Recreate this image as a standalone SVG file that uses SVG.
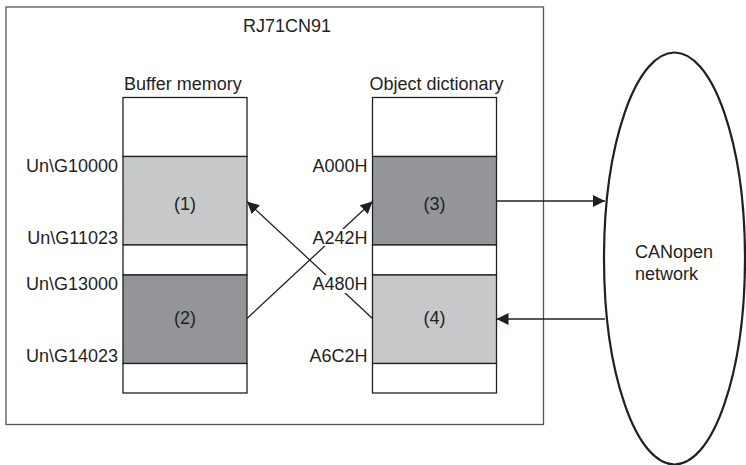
<svg xmlns="http://www.w3.org/2000/svg" width="746" height="465" viewBox="0 0 746 465">
<defs>
<style>
text{font-family:"Liberation Sans",Arial,sans-serif;font-size:18px;fill:#231f20}
.r{text-anchor:end}
.m{text-anchor:middle}
.cell{stroke:#231f20;stroke-width:1.3}
.w{fill:#fff}
.lg{fill:#c7c8ca}
.dg{fill:#939598}
.con{stroke:#231f20;stroke-width:1.3;fill:none}
.bg{fill:#fff}
</style>
<marker id="ah" viewBox="0 0 12 12" refX="12" refY="6" markerWidth="12" markerHeight="12" markerUnits="userSpaceOnUse" orient="auto">
<path d="M0,0 L12,6 L0,12 Z" fill="#231f20"/>
</marker>
</defs>
<rect width="746" height="465" fill="#fff"/>
<g id="module">
<rect x="6" y="7" width="537.5" height="417.5" fill="none" stroke="#555" stroke-width="1.3"/>
<text x="287" y="32" class="m">RJ71CN91</text>
</g>
<g id="connectors">
<line class="con" x1="247" y1="318.5" x2="372.5" y2="201.5" marker-end="url(#ah)"/>
<line class="con" x1="372.5" y1="318.5" x2="247" y2="201.5" marker-end="url(#ah)"/>
<line class="con" x1="496.5" y1="201" x2="605" y2="201" marker-end="url(#ah)"/>
<line class="con" x1="605" y1="319" x2="496.5" y2="319" marker-end="url(#ah)"/>
</g>
<g id="buffer-memory">
<text x="124" y="90">Buffer memory</text>
<rect class="cell w" x="123" y="97.5" width="124" height="59"/>
<rect class="cell lg" x="123" y="156.5" width="124" height="88.5"/>
<rect class="cell w" x="123" y="245" width="124" height="30"/>
<rect class="cell dg" x="123" y="275" width="124" height="88.5"/>
<rect class="cell w" x="123" y="363.5" width="124" height="29.5"/>
<text x="185" y="209.5" class="m">(1)</text>
<text x="185" y="323.5" class="m">(2)</text>
<text x="118" y="172" class="r">Un\G10000</text>
<text x="118" y="244" class="r">Un\G11023</text>
<text x="118" y="290" class="r">Un\G13000</text>
<text x="118" y="362" class="r">Un\G14023</text>
</g>
<g id="object-dictionary">
<text x="369.5" y="90">Object dictionary</text>
<rect class="cell w" x="372.5" y="97.5" width="124" height="59"/>
<rect class="cell dg" x="372.5" y="156.5" width="124" height="88.5"/>
<rect class="cell w" x="372.5" y="245" width="124" height="30"/>
<rect class="cell lg" x="372.5" y="275" width="124" height="88.5"/>
<rect class="cell w" x="372.5" y="363.5" width="124" height="29.5"/>
<text x="434.5" y="209.5" class="m">(3)</text>
<text x="434.5" y="323.5" class="m">(4)</text>
<text x="367.5" y="172" class="r">A000H</text>
<rect class="bg" x="312" y="229" width="56" height="17"/>
<text x="367.5" y="244" class="r">A242H</text>
<rect class="bg" x="312" y="275" width="56" height="18"/>
<text x="367.5" y="290" class="r">A480H</text>
<text x="367.5" y="362" class="r">A6C2H</text>
</g>
<g id="canopen-network">
<ellipse cx="674.5" cy="258.5" rx="70.5" ry="206" fill="none" stroke="#231f20" stroke-width="2.2"/>
<text x="635" y="258">CANopen</text>
<text x="635" y="280">network</text>
</g>
</svg>
